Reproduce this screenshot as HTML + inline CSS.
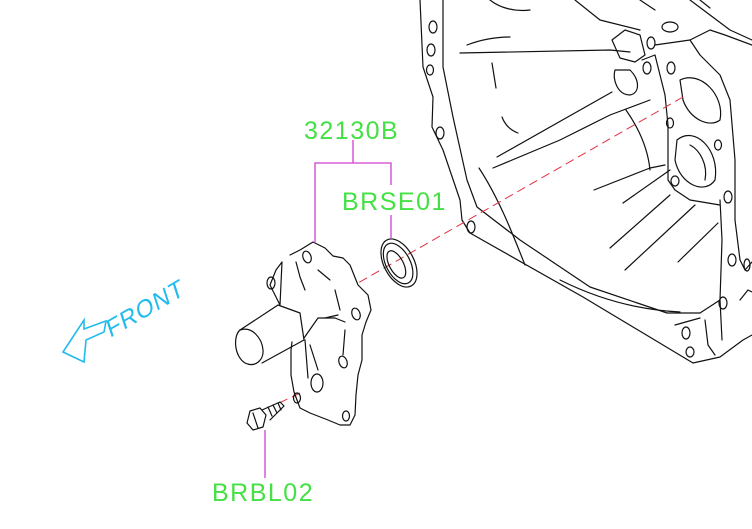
<!DOCTYPE html>
<html><head><meta charset="utf-8"><style>
html,body{margin:0;padding:0;background:#fff;width:752px;height:529px;overflow:hidden}
svg{display:block}
.k{fill:none;stroke:#111;stroke-width:1.2;stroke-linecap:round;stroke-linejoin:round}
.m{fill:none;stroke:#d040d0;stroke-width:1.3}
.r{fill:none;stroke:#e03040;stroke-width:1;stroke-dasharray:9,5}
.g{fill:#44e044;font-family:"Liberation Sans",sans-serif;font-size:25px;letter-spacing:1.5px}
</style></head><body>
<svg width="752" height="529" viewBox="0 0 752 529">
<g class="k">
<path d="M420,0 L423,67 L433,97 L432,127 L443,150 L460,200 L462,220 L470,233 L583,297 L693,363 L720,357 L743,340 L752,335"/>
<path d="M443,0 L443,67 L453,117 L467,180 L477,207 L520,240 L590,287 L667,313 L700,313 L720,300"/>
<path d="M720,200 L722,240 L720,300 L722,340"/>
<path d="M460,53 L610,50 L630,52"/>
<path d="M467,45 C480,40 495,37 510,37"/>
<path d="M492,63 L496,88"/>
<path d="M502,117 C505,125 510,130 518,133"/>
<path d="M497,157 L612,92"/>
<path d="M493,168 L560,140 L610,115 L650,100"/>
<path d="M479,168 C500,200 515,240 525,265"/>
<path d="M560,280 C600,300 640,310 680,312"/>
<path d="M594,190 L650,168 L665,165"/>
<path d="M623,203 L670,170"/>
<path d="M610,248 L670,195"/>
<path d="M625,270 L695,205"/>
<path d="M678,262 L718,223"/>
<path d="M626,110 C640,130 648,150 650,170"/>
<path d="M612,40 L625,30 L640,35 L645,55 L635,62 L620,58 Z"/>
<path d="M615,70 C612,80 618,95 630,95 C640,93 640,80 630,70 Z"/>
<path d="M642,60 L655,55 L665,95 L668,125 L668,180 L675,190 L690,200 L720,205"/>
<path d="M655,45 L690,40 L700,55 L720,75 L730,100 L735,160 L735,220"/>
<path d="M680,80 C700,70 725,95 720,120 C710,128 690,120 683,100 Z"/>
<path d="M677,140 C695,125 720,150 715,180 C705,195 680,185 675,160 Z"/>
<path d="M690,145 C700,150 708,165 705,180"/>
<path d="M690,0 L710,15 L730,30 L752,40"/>
<path d="M690,40 L710,30 L725,35 L752,45"/>
<path d="M575,0 L600,20 L640,30"/>
<path d="M490,0 C500,8 515,12 530,10"/>
<path d="M640,0 L655,10"/>
<path d="M700,0 L710,8"/>
<path d="M735,220 L740,260 L745,270 L752,262"/>
<path d="M740,300 L748,290 L752,292"/>
<path d="M705,320 L708,345 L715,355"/>
<path d="M675,325 L700,318"/>
<ellipse cx="433" cy="27" rx="4" ry="6"/><ellipse cx="431" cy="50" rx="4" ry="6"/><ellipse cx="430" cy="70" rx="3.5" ry="5"/>
<ellipse cx="440" cy="133" rx="4" ry="6"/><ellipse cx="471" cy="227" rx="4" ry="6"/>
<ellipse cx="670" cy="27" rx="8" ry="5"/><ellipse cx="651" cy="43" rx="4" ry="6"/>
<ellipse cx="647" cy="68" rx="4" ry="6"/><ellipse cx="671" cy="68" rx="4" ry="6"/>
<ellipse cx="670" cy="123" rx="3.5" ry="5"/><ellipse cx="718" cy="145" rx="3.5" ry="5"/>
<ellipse cx="675" cy="181" rx="4" ry="5"/><ellipse cx="728" cy="197" rx="4" ry="6"/>
<ellipse cx="732" cy="260" rx="4" ry="6"/><ellipse cx="723" cy="303" rx="4" ry="6"/>
<ellipse cx="686" cy="333" rx="4" ry="6"/><ellipse cx="690" cy="352" rx="4" ry="5"/>
<ellipse cx="747" cy="265" rx="3" ry="6"/>
</g>
<path class="r" d="M683,97 L358,283"/>
<path class="r" d="M300,393 L275,405"/>
<g class="k" transform="rotate(-28 399 263)">
<ellipse cx="399" cy="263" rx="15" ry="26"/>
<ellipse cx="398" cy="263" rx="12" ry="22"/>
<ellipse cx="396" cy="263" rx="7" ry="15"/>
</g>
<g class="k">
<path d="M290,255 L300,250 L313,242 L325,248 L333,256 L343,258 L350,265 L354,275 L358,285 L368,295 L371,310 L366,322 L362,335 L362,360 L358,375 L356,395 L355,415 L350,425 L340,425 L328,420 L310,413 L300,408 L294,392 L291,375 L291,350 L292,342 M280,305 L275,295 L270,285 L276,270 L282,262 Z"/>
<path d="M240,330 L278,305 L300,313 L304,340 L262,363"/>
<path d="M240,330 C233,336 234,356 245,363 C255,368 264,360 263,350 C262,338 252,326 240,330 Z"/>
<path d="M304,338 L318,318 L335,318 L345,322"/>
<path d="M296,262 L300,277 L305,290"/>
<path d="M318,270 L330,280"/>
<path d="M335,290 L340,310"/>
<path d="M325,318 L338,315"/>
<path d="M345,330 L343,355"/>
<path d="M310,345 L318,370"/>
<path d="M305,340 L308,378"/>
<ellipse cx="307" cy="257" rx="4" ry="6" transform="rotate(-20 307 257)"/>
<ellipse cx="271" cy="283" rx="4" ry="6"/>
<ellipse cx="356" cy="314" rx="4" ry="6" transform="rotate(-20 356 314)"/>
<ellipse cx="343" cy="362" rx="4" ry="6" transform="rotate(-20 343 362)"/>
<ellipse cx="317" cy="383" rx="6" ry="9"/>
<ellipse cx="297" cy="398" rx="3.5" ry="5"/>
<ellipse cx="346" cy="416" rx="3.5" ry="5"/>
<path d="M250,411 L260,408 L266,415 L263,427 L253,430 L247,423 Z"/>
<path d="M253,413 L258,428"/>
<path d="M262,410 L280,402 L284,406 L270,420"/>
<path d="M268,407 L272,416 M273,405 L277,413 M278,403 L281,410"/>
</g>
<path class="m" d="M353,140 V163 M315,243 V163 H391 V185 M391,215 V238 M265,430 V478"/>
<text class="g" x="304" y="139">32130B</text>
<text class="g" x="342" y="210">BRSE01</text>
<text class="g" x="212" y="501">BRBL02</text>
<g fill="none" stroke="#22bbee" stroke-width="1.6" stroke-linejoin="miter">
<path d="M63,352 L84,320 L84,329 L106,321 L104,332 L86,340 L84,362 Z"/>
</g>
<text x="0" y="0" transform="translate(110,338) rotate(-30) skewX(-12)" fill="#22bbee" font-family="Liberation Sans,sans-serif" font-size="24" letter-spacing="1">FRONT</text>
</svg>
</body></html>
